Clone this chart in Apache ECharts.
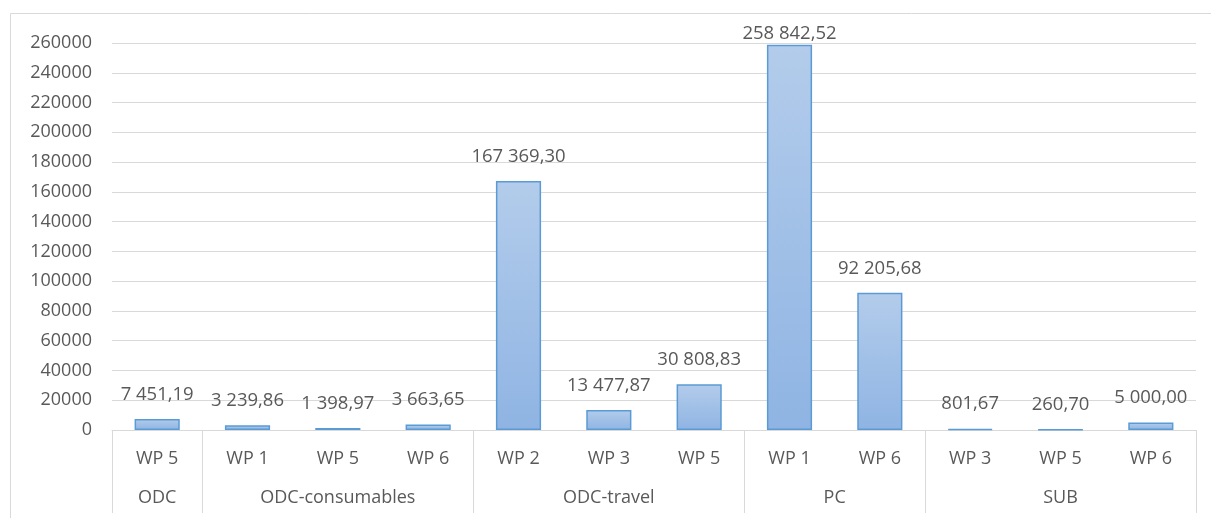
<!DOCTYPE html>
<html>
<head>
<meta charset="utf-8">
<title>Budget by cost category and work package</title>
<script src="https://cdn.jsdelivr.net/npm/echarts@6/dist/echarts.min.js"></script>
<style>
  html, body { margin: 0; padding: 0; background: #ffffff; }
  #chart { width: 1211px; height: 518px; }
</style>
</head>
<body>
<div id="chart"></div>
<script>
// Work packages, in drawing order, with the cost group each one belongs to
const workPackages = ['WP 5', 'WP 1', 'WP 5', 'WP 6', 'WP 2', 'WP 3', 'WP 5', 'WP 1', 'WP 6', 'WP 3', 'WP 5', 'WP 6'];
const groupNames = ['ODC', 'ODC-consumables', 'ODC-travel', 'PC', 'SUB'];
const groupSizes = [1, 3, 3, 2, 3];
const amounts = [7451.19, 3239.86, 1398.97, 3663.65, 167369.30, 13477.87, 30808.83, 258842.52, 92205.68, 801.67, 260.70, 5000.00];
const yTicks = { min: 0, max: 260000, step: 20000 };

const TEXT = '#595959';
const RULE = '#d9d9d9';
const FONT = '"Open Sans", "Noto Sans", sans-serif';

// Group boundaries (in category units) and group centres for the second label row
const bounds = [0];
groupSizes.forEach(n => bounds.push(bounds[bounds.length - 1] + n));
const centres = groupSizes.map((n, i) => bounds[i] + n / 2);

// "258 842,52": space as thousands separator, comma as decimal mark
function fmt(v) {
  const [int, dec] = v.toFixed(2).split('.');
  return int.replace(/\B(?=(\d{3})+(?!\d))/g, ' ') + ',' + dec;
}

const chart = echarts.init(document.getElementById('chart'));
const frameTop = 13;

chart.setOption({
  backgroundColor: '#ffffff',
  animation: false,
  textStyle: { fontFamily: FONT },
  graphic: [{
    type: 'rect',
    silent: true,
    shape: { x: 10.5, y: frameTop + 0.5, width: 1400, height: 800 },
    style: { fill: 'none', stroke: RULE, lineWidth: 1 }
  }],
  grid: { left: 112, right: 15, top: 43, bottom: 88, containLabel: false },
  xAxis: [{
    type: 'category',
    data: workPackages,
    position: 'bottom',
    offset: 0,
    axisLine: { show: true, lineStyle: { color: RULE, width: 1 } },
    axisTick: { show: false },
    axisLabel: { color: TEXT, fontSize: 18, fontFamily: FONT, margin: 20, interval: 0 },
    splitLine: { show: false }
  }, {
    type: 'value',
    min: 0,
    max: workPackages.length,
    position: 'bottom',
    offset: 0,
    axisLine: { show: false },
    axisTick: {
      show: true,
      inside: false,
      length: 83,
      customValues: bounds,
      lineStyle: { color: RULE, width: 1 }
    },
    axisLabel: {
      show: true,
      customValues: centres,
      color: TEXT,
      fontSize: 18,
      fontFamily: FONT,
      margin: 59,
      formatter: v => {
        const i = centres.findIndex(c => Math.abs(c - v) < 1e-6);
        return i >= 0 ? groupNames[i] : '';
      }
    },
    splitLine: { show: false }
  }],
  yAxis: {
    type: 'value',
    min: yTicks.min,
    max: yTicks.max,
    interval: yTicks.step,
    axisLine: { show: false },
    axisTick: { show: false },
    axisLabel: {
      color: TEXT, fontSize: 18, fontFamily: FONT, margin: 20,
      formatter: v => String(v)
    },
    splitLine: { show: true, lineStyle: { color: RULE, width: 1 } }
  },
  series: [{
    type: 'bar',
    xAxisIndex: 0,
    data: amounts,
    barWidth: '50%',
    itemStyle: {
      color: new echarts.graphic.LinearGradient(0, 0, 0, 1, [
        { offset: 0, color: '#b3cceb' },
        { offset: 1, color: '#8fb4e3' }
      ]),
      borderColor: '#5b9bd5',
      borderWidth: 1.5
    },
    label: {
      show: true,
      position: 'top',
      distance: 15,
      color: TEXT,
      fontSize: 18.5,
      fontFamily: FONT,
      formatter: p => fmt(p.value)
    },
    // keep value labels inside the chart frame
    labelLayout: params => {
      const minTop = frameTop + 11;
      return params.labelRect.y < minTop ? { dy: minTop - params.labelRect.y } : {};
    }
  }]
});
</script>
</body>
</html>
